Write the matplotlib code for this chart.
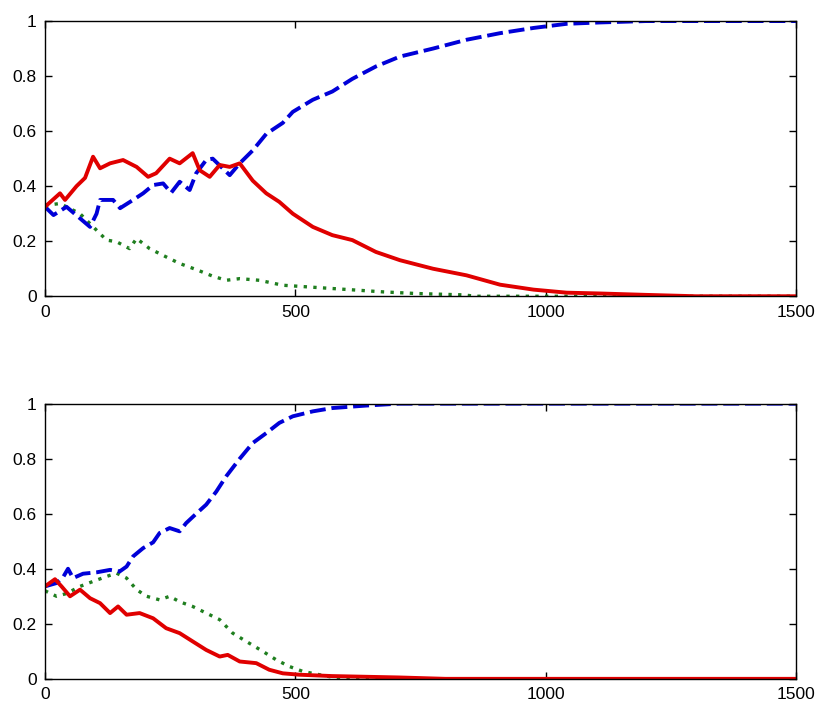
import matplotlib
matplotlib.use("Agg")
import matplotlib.pyplot as plt

# ---------------- data ----------------
# Top panel
top_red_x = [0, 30, 40, 63, 80, 96, 110, 130, 156, 183, 206, 222, 249, 269, 295, 309, 329, 349, 369, 389,
             415, 442, 468, 495, 535, 574, 614, 661, 709, 775, 842, 909, 976, 1042, 1109, 1200, 1300, 1500]
top_red_y = [0.325, 0.374, 0.35, 0.40, 0.43, 0.507, 0.465, 0.483, 0.495, 0.47, 0.434, 0.447, 0.50, 0.483, 0.52,
             0.458, 0.434, 0.477, 0.47, 0.483, 0.42, 0.374, 0.343, 0.30, 0.252, 0.222, 0.204, 0.161, 0.131,
             0.10, 0.076, 0.042, 0.024, 0.013, 0.01, 0.005, 0.0, 0.0]

top_blue_x = [0, 17, 43, 70, 90, 103, 110, 136, 150, 176, 196, 216, 236, 252, 269, 289, 302, 322, 335, 369,
              389, 415, 442, 475, 495, 535, 574, 614, 661, 709, 775, 842, 909, 976, 1042, 1109, 1200, 1500]
top_blue_y = [0.325, 0.295, 0.325, 0.283, 0.252, 0.30, 0.35, 0.35, 0.32, 0.35, 0.374, 0.404, 0.41, 0.376,
              0.416, 0.386, 0.447, 0.495, 0.50, 0.44, 0.483, 0.53, 0.59, 0.63, 0.67, 0.714, 0.744, 0.79,
              0.835, 0.871, 0.90, 0.932, 0.956, 0.975, 0.99, 0.995, 1.0, 1.0]

top_green_x = [0, 30, 70, 103, 123, 143, 169, 183, 209, 242, 269, 302, 335, 362, 389, 428, 475, 541, 608,
               674, 740, 835, 860, 1500]
top_green_y = [0.33, 0.337, 0.30, 0.24, 0.204, 0.198, 0.173, 0.21, 0.173, 0.143, 0.119, 0.097, 0.073, 0.058,
               0.064, 0.058, 0.04, 0.032, 0.024, 0.016, 0.01, 0.005, 0.0, 0.0]

# Bottom panel
bot_red_x = [0, 20, 33, 50, 70, 90, 110, 130, 146, 163, 189, 216, 242, 269, 295, 322, 349, 365, 389, 422,
             448, 475, 508, 574, 707, 800, 1500]
bot_red_y = [0.336, 0.362, 0.336, 0.30, 0.324, 0.293, 0.275, 0.239, 0.263, 0.233, 0.239, 0.22, 0.184, 0.166,
             0.136, 0.105, 0.081, 0.087, 0.063, 0.057, 0.033, 0.02, 0.015, 0.01, 0.005, 0.0, 0.0]

bot_blue_x = [0, 23, 37, 46, 56, 76, 103, 130, 149, 163, 176, 196, 216, 229, 249, 269, 282, 302, 322, 342,
              362, 389, 415, 442, 468, 495, 535, 574, 641, 707, 1500]
bot_blue_y = [0.336, 0.348, 0.372, 0.40, 0.366, 0.382, 0.387, 0.396, 0.39, 0.408, 0.445, 0.475, 0.496, 0.53,
              0.548, 0.536, 0.566, 0.60, 0.633, 0.68, 0.736, 0.80, 0.857, 0.893, 0.93, 0.954, 0.972, 0.984,
              0.993, 1.0, 1.0]

bot_green_x = [0, 23, 43, 70, 96, 123, 143, 163, 183, 203, 229, 249, 269, 295, 322, 349, 375, 402, 435, 462,
               488, 515, 548, 574, 610, 1500]
bot_green_y = [0.32, 0.30, 0.31, 0.336, 0.354, 0.372, 0.384, 0.366, 0.324, 0.30, 0.287, 0.30, 0.28, 0.263,
               0.239, 0.215, 0.166, 0.136, 0.10, 0.069, 0.045, 0.027, 0.015, 0.006, 0.0, 0.0]

x_ticks = [0, 500, 1000, 1500]
x_tick_labels = ["0", "500", "1000", "1500"]
y_ticks = [0, 0.2, 0.4, 0.6, 0.8, 1.0]
y_tick_labels = ["0", "0.2", "0.4", "0.6", "0.8", "1"]

# ---------------- figure ----------------
plt.rcParams['font.family'] = ['Liberation Sans', 'DejaVu Sans']
fig = plt.figure(figsize=(8.18, 7.02), dpi=100)

ax_top = fig.add_axes([0.055, 0.578, 0.918, 0.392])
ax_bot = fig.add_axes([0.055, 0.033, 0.918, 0.392])

panels = [
    (ax_top, (top_blue_x, top_blue_y), (top_red_x, top_red_y), (top_green_x, top_green_y)),
    (ax_bot, (bot_blue_x, bot_blue_y), (bot_red_x, bot_red_y), (bot_green_x, bot_green_y)),
]

for ax, blue, red, green in panels:
    ax.plot(green[0], green[1], color='#1f7f1f', linestyle=(0, (1, 1.9)), linewidth=2.4,
            dash_capstyle='butt')
    ax.plot(blue[0], blue[1], color='#0000d8', linestyle=(0, (4.1, 1.5)), linewidth=2.8,
            dash_capstyle='butt')
    ax.plot(red[0], red[1], color='#e00000', linestyle='-', linewidth=2.8)
    ax.set_xlim(0, 1500)
    ax.set_ylim(0, 1)
    ax.set_xticks(x_ticks)
    ax.set_xticklabels(x_tick_labels)
    ax.set_yticks(y_ticks)
    ax.set_yticklabels(y_tick_labels)
    ax.tick_params(direction='in', top=True, right=True, length=5, width=1,
                   labelsize=12.5, pad=6, colors='black')
    for s in ax.spines.values():
        s.set_linewidth(1.0)
        s.set_color('black')

fig.savefig("out.png", dpi=100, facecolor='white')
